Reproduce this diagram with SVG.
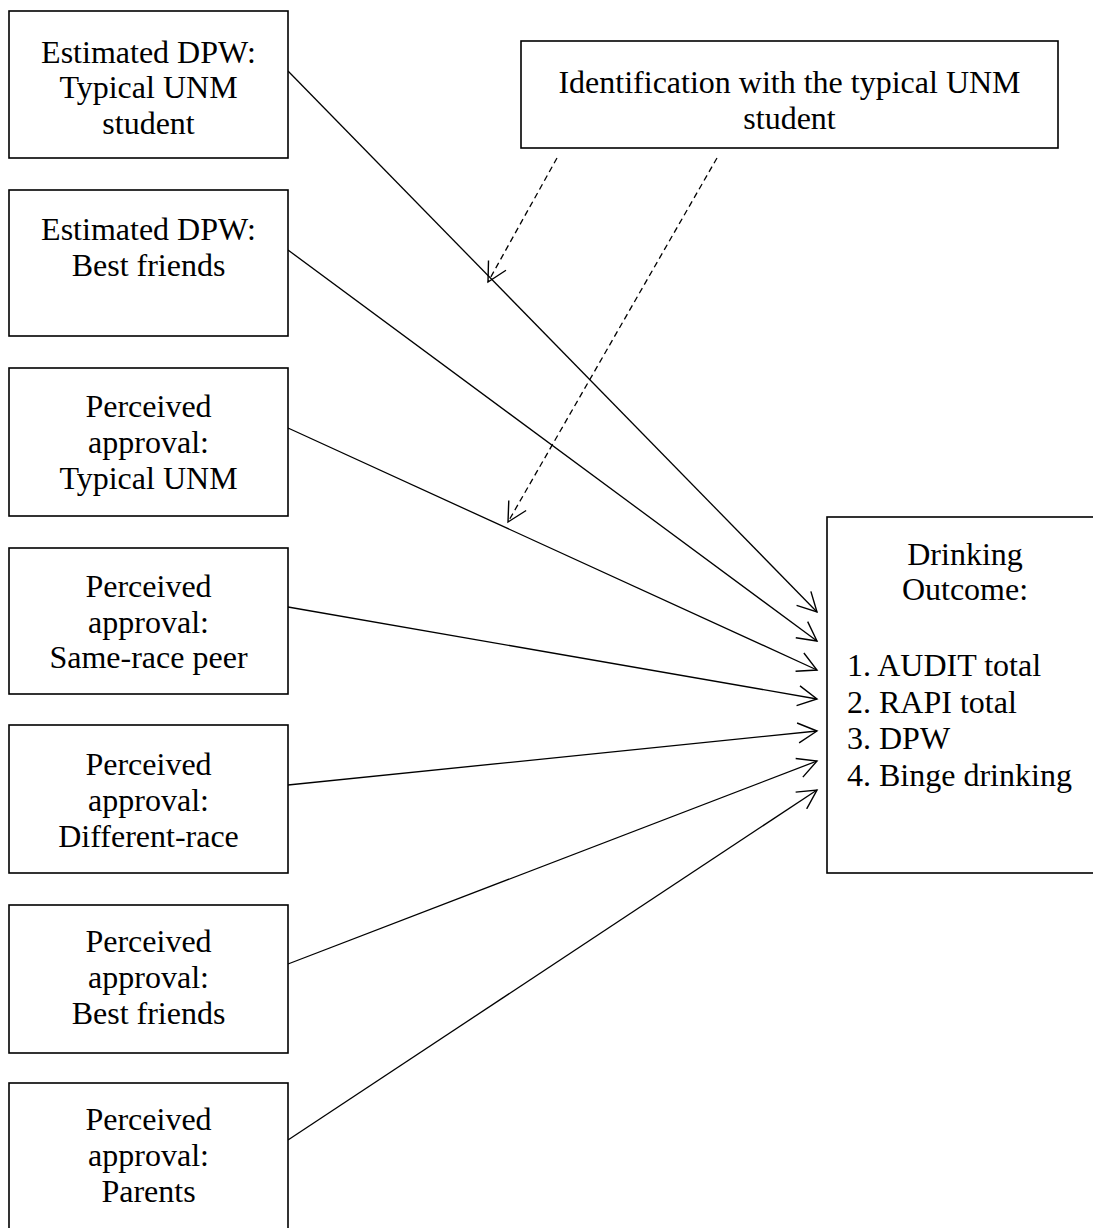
<svg xmlns="http://www.w3.org/2000/svg" width="1093" height="1228" viewBox="0 0 1093 1228">
<style>
.box{fill:#fff;stroke:#000;stroke-width:1.6}
.t{font-family:"Liberation Serif","Times New Roman",serif;font-size:32px;fill:#000;text-anchor:middle}
.tl{font-family:"Liberation Serif","Times New Roman",serif;font-size:32px;fill:#000}
.c{fill:none;stroke:#000;stroke-width:1.3}
.d{stroke-dasharray:6 4}
</style>
<defs>
<marker id="ah" viewBox="0 0 22 22" refX="20" refY="11" markerWidth="22" markerHeight="22" markerUnits="userSpaceOnUse" orient="auto">
<path d="M1,1 L20,11 L1,21" fill="none" stroke="#000" stroke-width="1.4" stroke-dasharray="none"/>
</marker>
</defs>
<rect width="1093" height="1228" fill="#fff"/>
<g id="connectors">
<line class="c" x1="288" y1="71" x2="817" y2="612" marker-end="url(#ah)"/>
<line class="c" x1="288" y1="250" x2="817" y2="641" marker-end="url(#ah)"/>
<line class="c" x1="288" y1="428" x2="817" y2="670" marker-end="url(#ah)"/>
<line class="c" x1="288" y1="607" x2="817" y2="699" marker-end="url(#ah)"/>
<line class="c" x1="288" y1="785" x2="817" y2="731" marker-end="url(#ah)"/>
<line class="c" x1="288" y1="964" x2="817" y2="761" marker-end="url(#ah)"/>
<line class="c" x1="288" y1="1140" x2="817" y2="790" marker-end="url(#ah)"/>
<line class="c d" x1="557" y1="158" x2="488" y2="282" marker-end="url(#ah)"/>
<line class="c d" x1="717" y1="158" x2="508" y2="522" marker-end="url(#ah)"/>
</g>
<g id="n1">
<rect class="box" x="9" y="11" width="279" height="147"/>
<text class="t" x="148.5" y="62.5">Estimated DPW:</text>
<text class="t" x="148.5" y="98">Typical UNM</text>
<text class="t" x="148.5" y="133.5">student</text>
</g>
<g id="n2">
<rect class="box" x="9" y="190" width="279" height="146"/>
<text class="t" x="148.5" y="240">Estimated DPW:</text>
<text class="t" x="148.5" y="276">Best friends</text>
</g>
<g id="n3">
<rect class="box" x="9" y="368" width="279" height="148"/>
<text class="t" x="148.5" y="417">Perceived</text>
<text class="t" x="148.5" y="453">approval:</text>
<text class="t" x="148.5" y="489">Typical UNM</text>
</g>
<g id="n4">
<rect class="box" x="9" y="548" width="279" height="146"/>
<text class="t" x="148.5" y="597">Perceived</text>
<text class="t" x="148.5" y="633">approval:</text>
<text class="t" x="148.5" y="668">Same-race peer</text>
</g>
<g id="n5">
<rect class="box" x="9" y="725" width="279" height="148"/>
<text class="t" x="148.5" y="775">Perceived</text>
<text class="t" x="148.5" y="811">approval:</text>
<text class="t" x="148.5" y="847">Different-race</text>
</g>
<g id="n6">
<rect class="box" x="9" y="905" width="279" height="148"/>
<text class="t" x="148.5" y="952">Perceived</text>
<text class="t" x="148.5" y="988">approval:</text>
<text class="t" x="148.5" y="1024">Best friends</text>
</g>
<g id="n7">
<rect class="box" x="9" y="1083" width="279" height="160"/>
<text class="t" x="148.5" y="1130">Perceived</text>
<text class="t" x="148.5" y="1166">approval:</text>
<text class="t" x="148.5" y="1202">Parents</text>
</g>
<g id="n8">
<rect class="box" x="521" y="41" width="537" height="107"/>
<text class="t" x="789.5" y="93">Identification with the typical UNM</text>
<text class="t" x="789.5" y="129">student</text>
</g>
<g id="n9">
<rect class="box" x="827" y="517" width="290" height="356"/>
<text class="t" x="965" y="565">Drinking</text>
<text class="t" x="965" y="600">Outcome:</text>
<text class="tl" x="847" y="676">1. AUDIT total</text>
<text class="tl" x="847" y="713">2. RAPI total</text>
<text class="tl" x="847" y="749">3. DPW</text>
<text class="tl" x="847" y="786">4. Binge drinking</text>
</g>
</svg>
